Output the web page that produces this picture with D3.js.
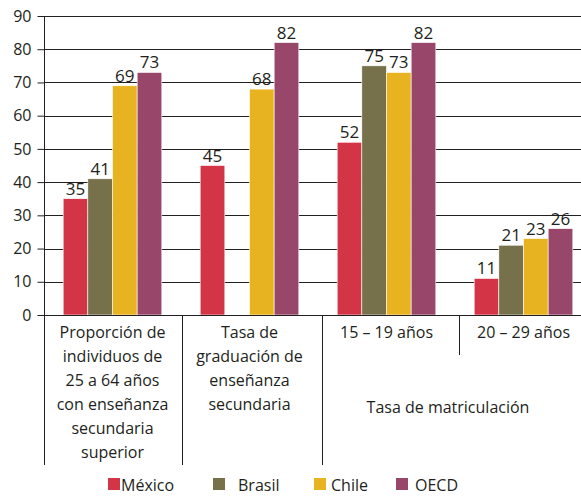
<!DOCTYPE html>
<html>
<head>
<meta charset="utf-8">
<script src="https://cdn.jsdelivr.net/npm/d3@7"></script>
<style>
  body { margin: 0; background: #fff; }
  text { font-family: "Open Sans", sans-serif; fill: #231f20; }
</style>
</head>
<body>
<div class="plot-1"></div>
<script>
// series and categories
var paises = ['México', 'Brasil', 'Chile', 'OECD'];
var grupos = ['g1', 'g2', 'g3', 'g4'];
var etiquetas = [
  ['Proporción de', 'individuos de', '25 a 64 años', 'con enseñanza', 'secundaria', 'superior'],
  ['Tasa de', 'graduación de', 'enseñanza', 'secundaria'],
  ['15 – 19 años'],
  ['20 – 29 años']
];
var etiquetaComun = 'Tasa de matriculación';
var mexico = [35, 45, 52, 11];
var brasil = [41, null, 75, 21];
var chile = [69, 68, 73, 23];
var oecd = [73, 82, 82, 26];
var yTicks = [0, 10, 20, 30, 40, 50, 60, 70, 80, 90];

var colores = {'México': '#d33546', 'Brasil': '#76714b', 'Chile': '#e8b321', 'OECD': '#98476b'};
var series = {'México': mexico, 'Brasil': brasil, 'Chile': chile, 'OECD': oecd};

var W = 581, H = 496;
var mLeft = 44, mTop = 16, mBottom = 315;
var fs = '16px';

var svg = d3.select('.plot-1').append('svg')
  .attr('width', W).attr('height', H);

var x0 = d3.scaleBand().domain(grupos).range([mLeft, mLeft + 137 * 4]).paddingInner(0.28).paddingOuter(0.14);
var x1 = d3.scaleBand().domain(paises).range([0, x0.bandwidth()]);
var y = d3.scaleLinear().domain([0, 90]).range([mBottom, mTop]);

// gridlines
svg.append('g').selectAll('line').data(yTicks.slice(1)).enter().append('line')
  .attr('x1', mLeft).attr('x2', W)
  .attr('y1', function(d) { return Math.round(y(d)) + 0.5; })
  .attr('y2', function(d) { return Math.round(y(d)) + 0.5; })
  .attr('stroke', '#231f20').attr('stroke-width', 1);

// y axis
var yAxis = d3.axisLeft(y).tickValues(yTicks).tickSize(7).tickPadding(6);
var gy = svg.append('g').attr('transform', 'translate(' + (mLeft + 0.5) + ',0)').call(yAxis);
gy.select('.domain').remove();
gy.selectAll('line').attr('stroke', '#231f20');
gy.selectAll('text').style('font-size', fs).style('font-family', '"Open Sans", sans-serif').attr('fill', '#231f20');

// bars
var g = svg.append('g').selectAll('g').data(grupos).enter().append('g')
  .attr('transform', function(d) { return 'translate(' + x0(d) + ',0)'; });

paises.forEach(function(p) {
  var vals = series[p];
  var conValor = g.filter(function(d, i) { return vals[i] != null; });
  conValor.append('rect')
    .attr('x', x1(p))
    .attr('width', x1.bandwidth())
    .attr('y', function(d) { return y(vals[grupos.indexOf(d)]); })
    .attr('height', function(d) { return mBottom - y(vals[grupos.indexOf(d)]); })
    .attr('fill', colores[p])
    .attr('stroke', '#fff').attr('stroke-width', 0.6);
  conValor.append('text')
    .attr('x', x1(p) + x1.bandwidth() / 2)
    .attr('y', function(d) { return y(vals[grupos.indexOf(d)]) - 4; })
    .attr('text-anchor', 'middle')
    .style('font-size', '17px')
    .text(function(d) { return vals[grupos.indexOf(d)]; });
});

// x axis line and left border
svg.append('line').attr('x1', mLeft).attr('x2', W).attr('y1', mBottom + 0.5).attr('y2', mBottom + 0.5)
  .attr('stroke', '#231f20');
svg.append('line').attr('x1', mLeft + 0.5).attr('x2', mLeft + 0.5).attr('y1', mTop).attr('y2', 465)
  .attr('stroke', '#231f20');

// separators between groups
var sepX = [182, 322, 459];
var sepEnd = [465, 465, 355];
sepX.forEach(function(xx, i) {
  svg.append('line').attr('x1', xx + 0.5).attr('x2', xx + 0.5)
    .attr('y1', mBottom).attr('y2', sepEnd[i]).attr('stroke', '#231f20');
});

// category labels
grupos.forEach(function(gr, i) {
  var cx = x0(gr) + x0.bandwidth() / 2;
  etiquetas[i].forEach(function(l, j) {
    svg.append('text').attr('x', cx).attr('y', 338 + j * 24)
      .attr('text-anchor', 'middle').style('font-size', fs).text(l);
  });
});
svg.append('text').attr('x', 448).attr('y', 413).attr('text-anchor', 'middle')
  .style('font-size', fs).text(etiquetaComun);

// legend
var legX = [108, 213, 314, 396];
var txtX = [121, 238, 331, 415];
paises.forEach(function(p, i) {
  svg.append('rect').attr('x', legX[i]).attr('y', 478).attr('width', 12).attr('height', 12)
    .attr('fill', colores[p]);
  svg.append('text').attr('x', txtX[i]).attr('y', 491).style('font-size', fs).text(p);
});
</script>
</body>
</html>
